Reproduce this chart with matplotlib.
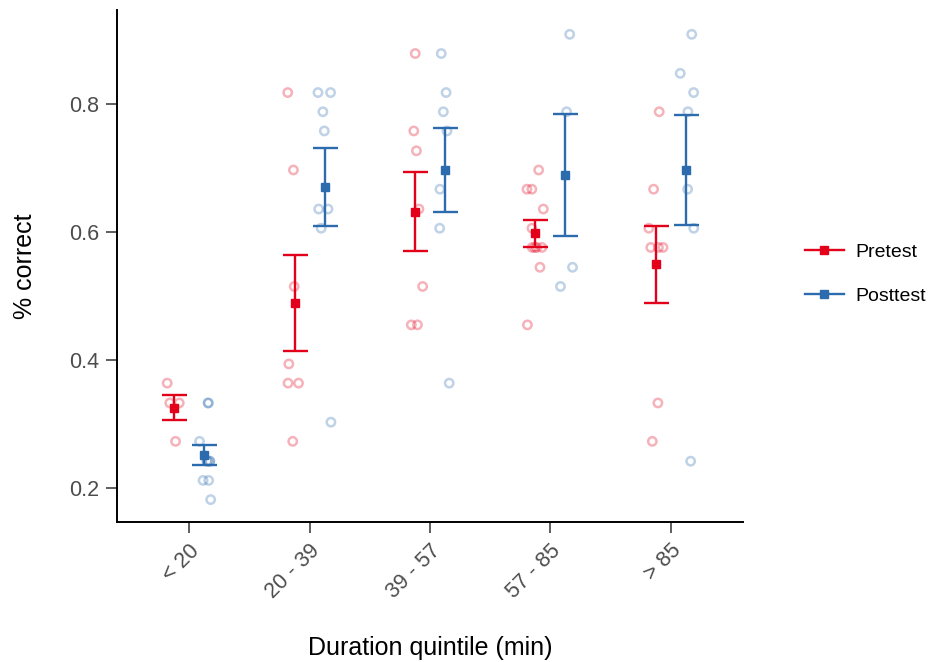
import numpy as np
import matplotlib
matplotlib.use("Agg")
from matplotlib import pyplot as plt
from matplotlib.lines import Line2D

plt.rcParams['font.family'] = ['Liberation Sans', 'DejaVu Sans']

# quintiles de durée
categories = ["< 20", "20 - 39", "39 - 57", "57 - 85", "> 85"]

# scores individuels (proportion correcte)
pretest = [
    [0.364, 0.333, 0.333, 0.273],
    [0.818, 0.697, 0.515, 0.394, 0.364, 0.364, 0.273],
    [0.879, 0.758, 0.727, 0.636, 0.515, 0.455, 0.455],
    [0.697, 0.667, 0.667, 0.636, 0.606, 0.576, 0.576, 0.576, 0.576, 0.545, 0.455],
    [0.788, 0.667, 0.606, 0.576, 0.576, 0.576, 0.333, 0.273],
]
posttest = [
    [0.333, 0.333, 0.273, 0.242, 0.242, 0.242, 0.242, 0.212, 0.212, 0.182],
    [0.818, 0.818, 0.788, 0.758, 0.636, 0.636, 0.606, 0.303],
    [0.879, 0.818, 0.788, 0.758, 0.667, 0.606, 0.364],
    [0.909, 0.788, 0.545, 0.515],
    [0.909, 0.848, 0.818, 0.788, 0.667, 0.606, 0.242],
]

series = [("Pretest", pretest, "#E3001B", -0.125),
          ("Posttest", posttest, "#2C6BAE", 0.125)]

fig = plt.figure(figsize=(9.3, 6.62), dpi=100)
ax = fig.add_axes([117/930, 1 - 522/662, (743-117)/930, (522-10)/662])

rng = np.random.default_rng(3)
x = np.arange(1, len(categories) + 1)

handles = []
for name, data, col, dx in series:
    means = []
    ses = []
    for i, vals in enumerate(data):
        v = np.array(vals)
        jit = rng.uniform(-0.07, 0.07, len(v))
        ax.scatter(x[i] + dx + jit, v, s=36, facecolors='none', edgecolors=col,
                   linewidths=1.8, alpha=0.3, zorder=2)
        means.append(v.mean())
        ses.append(v.std(ddof=1) / np.sqrt(len(v)))
    # moyenne +/- erreur standard
    ax.errorbar(x + dx, means, yerr=ses, fmt='s', color=col, ms=5.5,
                elinewidth=1.7, capsize=9, capthick=1.7, zorder=3)
    handles.append(Line2D([], [], color=col, marker='s', ms=5.5, lw=1.7, label=name))

ax.set_xlim(0.4, 5.6)
ax.set_ylim(0.147, 0.947)
ax.set_yticks([0.2, 0.4, 0.6, 0.8])
ax.set_yticklabels(["0.2", "0.4", "0.6", "0.8"])
ax.set_xticks(x)
ax.set_xticklabels(categories, rotation=45, ha='right', rotation_mode='anchor')

for s in ['top', 'right']:
    ax.spines[s].set_visible(False)
for s in ['left', 'bottom']:
    ax.spines[s].set_linewidth(1.4)
    ax.spines[s].set_color('black')
ax.tick_params(length=8, width=1.1, color='#333333', labelsize=15.5,
               labelcolor='#4D4D4D', pad=5)

ax.set_xlabel("Duration quintile (min)", fontsize=18, labelpad=24)
ax.set_ylabel("% correct", fontsize=18, labelpad=23)

fig.legend(handles=handles, loc='center left', bbox_to_anchor=(805/930, 1 - 274/662),
           frameon=False, fontsize=14, handlelength=2.0, handletextpad=0.6,
           borderpad=0, borderaxespad=0, labelspacing=1.35)

fig.savefig("out.png", dpi=100)
